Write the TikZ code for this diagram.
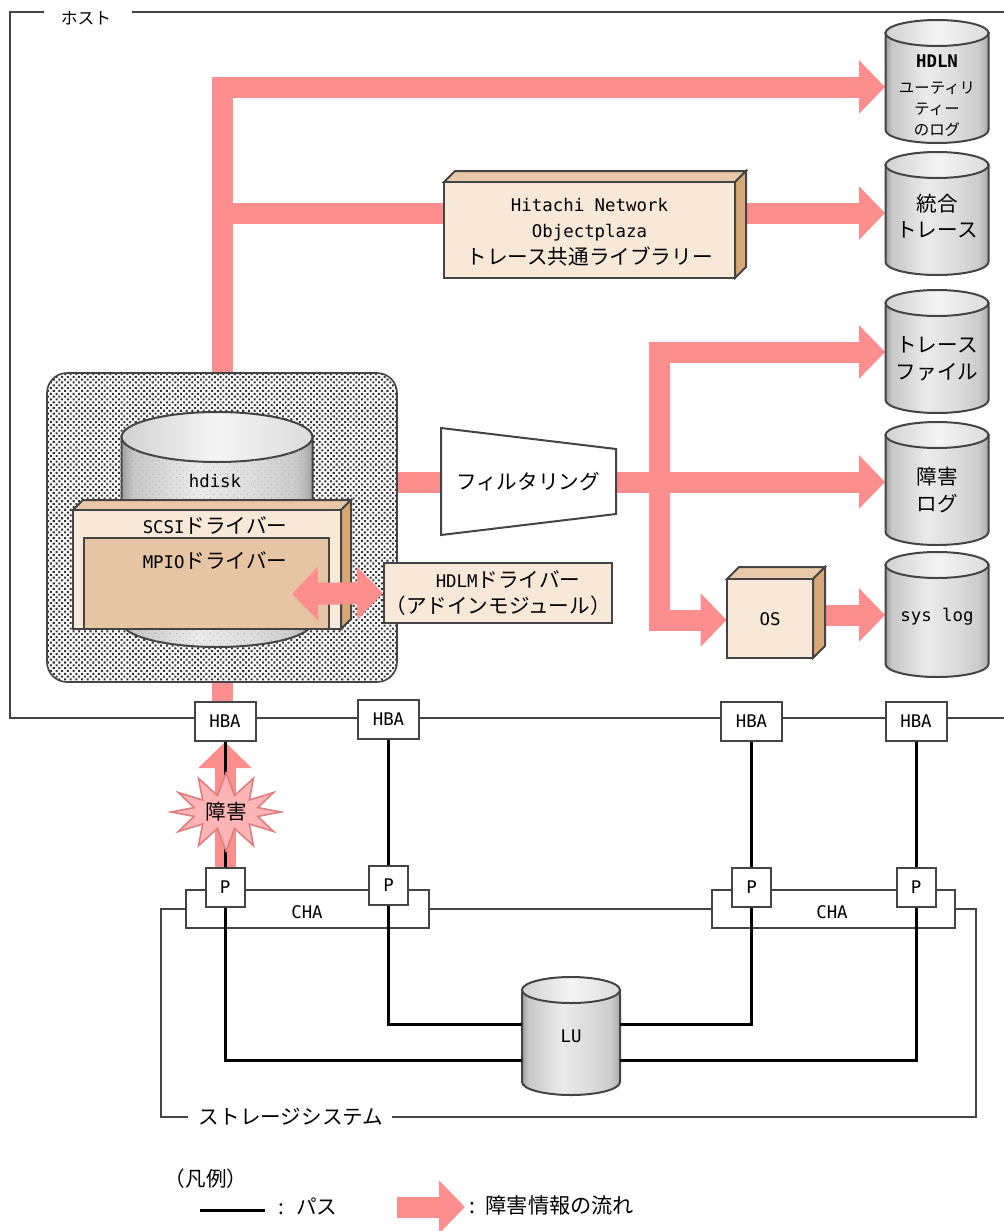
\documentclass[tikz,border=0pt]{standalone}
\usepackage{fontspec}
\setmainfont{Noto Sans CJK JP}
\setmonofont{DejaVu Sans Mono}
\usetikzlibrary{arrows.meta,backgrounds,patterns.meta,shapes.symbols}

\definecolor{flowpink}{HTML}{FC8E8E}
\definecolor{burstpink}{HTML}{FDB4B4}
\definecolor{burstedge}{HTML}{DD7F7F}
\definecolor{boxface}{HTML}{F8E8D8}
\definecolor{boxtop}{HTML}{E8C8A8}
\definecolor{boxside}{HTML}{D6A878}
\definecolor{mpioface}{HTML}{E6C4A4}
\definecolor{edgegrey}{HTML}{444444}

\pgfdeclarehorizontalshading{drumside}{100bp}{color(0bp)=(black!38); color(25bp)=(black!38); color(28bp)=(black!22); color(45bp)=(black!8); color(60bp)=(black!14); color(70bp)=(black!20); color(73bp)=(black!27); color(75bp)=(black!38); color(100bp)=(black!38)}
\pgfdeclarehorizontalshading{drumlid}{100bp}{color(0bp)=(black!18); color(25bp)=(black!18); color(50bp)=(black!4); color(75bp)=(black!14); color(100bp)=(black!14)}

\tikzset{
    frameline/.style={draw=edgegrey, line width=1pt},
    pathline/.style={draw=black, line width=1.5pt},
    flow/.style={draw=flowpink, line width=10.5pt, -{Triangle[length=13pt,width=26pt]}},
    flowplain/.style={draw=flowpink, line width=10.5pt},
    portbox/.style={draw=edgegrey, line width=1pt, fill=white, inner sep=0pt},
    habox/.style={portbox, minimum width=30.5pt, minimum height=19.5pt},
    pbox/.style={portbox, minimum width=19.5pt, minimum height=19.5pt},
    chabox/.style={portbox, minimum width=121.5pt, minimum height=19pt},
    drumtext/.style={minimum width=51.5pt, inner sep=0pt, align=center},
    basefont/.style={font=\fontsize{10.3}{13.2}\selectfont},
    faintdots/.style={pattern={Dots[radius=.28pt, distance=2.4pt, angle=45]}, pattern color=black!35},
}

% x centre, y of lid, y of base, x radius, y radius
\newcommand{\drum}[5]{
    \shadedraw[shading=drumside, draw=edgegrey, line width=1pt] (#1-#4,#2) -- (#1-#4,#3) arc[start angle=180, end angle=0, x radius=#4, y radius=#5] -- (#1+#4,#2) -- cycle;
    \shadedraw[shading=drumlid, draw=edgegrey, line width=1pt] (#1,#2) ellipse[x radius=#4, y radius=#5];
}
% left, top, right, bottom, depth
\newcommand{\solidbox}[5]{
    \filldraw[fill=boxtop, draw=edgegrey, line width=1pt] (#1,#2) -- (#1+#5,#2-#5) -- (#3+#5,#2-#5) -- (#3,#2) -- cycle;
    \filldraw[fill=boxside, draw=edgegrey, line width=1pt] (#3,#2) -- (#3+#5,#2-#5) -- (#3+#5,#4-#5) -- (#3,#4) -- cycle;
    \filldraw[fill=boxface, draw=edgegrey, line width=1pt] (#1,#2) rectangle (#3,#4);
}
\newcommand{\lat}[1]{{\fontsize{8.7}{8.7}\ttfamily\selectfont #1}}

\begin{document}
\begin{tikzpicture}[x=0.5pt, y=-0.5pt, basefont]
    \useasboundingbox (0,0) rectangle (1004,1231);

    \coordinate (hdlnrow) at (0,87);
    \coordinate (tracerow) at (0,213);
    \coordinate (filerow) at (0,352);
    \coordinate (osrow) at (0,620);
    \coordinate (syslogrow) at (0,615);
    \coordinate (lurowA) at (0,1024);
    \coordinate (lurowB) at (0,1060);
    \coordinate (branch) at (659,483);
    \coordinate (hostTL) at (10,12);
    \coordinate (hostTR) at (1004,12);
    \coordinate (hostBL) at (10,718);
    \coordinate (hostBR) at (1004,718);
    \coordinate (storeBL) at (161,1117);
    \coordinate (storeBR) at (976,1117);
    \coordinate (mpioport) at (292,594);
    \coordinate (pathkeystart) at (200,1210);
    \coordinate (flowkeystart) at (397,1207);

    % host side
    \node[inner sep=0pt] (hostlabel) at (86,18) {\fontsize{8.4}{10}\selectfont ホスト};
    \node[minimum width=175pt, minimum height=154.5pt, rounded corners=10pt, draw=edgegrey, line width=.8pt, pattern={Dots[radius=.72pt, distance=2pt, angle=45]}, pattern color=black!80] (hostpanel) at (222,527.5) {};

    \solidbox{444}{182}{735}{278}{11}
    \node[minimum width=145.5pt, align=center, inner sep=0pt, font=\fontsize{10.3}{13.25}\selectfont] (hnbox) at (589.5,232) {\lat{Hitachi Network}\\\lat{Objectplaza}\\トレース共通ライブラリー};

    \filldraw[fill=white, draw=edgegrey, line width=1pt] (441,428) -- (616,449) -- (616,514) -- (441,535) -- cycle;
    \node (filter) at (528,482) {フィルタリング};

    \solidbox{727}{579}{813}{658}{12}
    \node[minimum width=43pt, inner sep=0pt] (osbox) at (770,619) {\lat{OS}};

    \drum{937}{33}{130}{51.5}{13}
    \drum{937}{165}{262}{51.5}{13}
    \drum{937}{303}{400}{51.5}{13}
    \drum{937}{435}{532}{51.5}{13}
    \drum{937}{565}{664}{51.5}{13}
    \node[drumtext, font=\fontsize{7.7}{10.7}\selectfont] (hdlnlog) at (937,96) {\lat{\bfseries HDLN}\\[2pt]ユーティリ\\ティー\\のログ};
    \node[drumtext] (tracelog) at (937,216) {統合\\トレース};
    \node[drumtext] (tracefile) at (937,359) {トレース\\ファイル};
    \node[drumtext] (faultlog) at (937,490) {障害\\ログ};
    \node[drumtext] (syslog) at (937,617) {\lat{sys log}};

    % inside the panel
    \drum{217}{437}{622}{95.5}{25}
    \fill[faintdots] (121.5,437) -- (121.5,622) arc[start angle=180, end angle=0, x radius=95.5, y radius=25] -- (312.5,437) arc[start angle=0, end angle=180, x radius=95.5, y radius=25] -- cycle;
    \node (hdisk) at (215,481) {\lat{hdisk}};
    \solidbox{73}{510}{341}{629}{10}
    \node (scsidrv) at (215,526) {\lat{SCSI}ドライバー};
    \node[draw=edgegrey, line width=1pt, fill=mpioface, minimum width=122.5pt, minimum height=45.5pt] (mpiodrv) at (206.5,583.5) {};
    \node (mpiotext) at (215,560) {\lat{MPIO}ドライバー};
    \node[draw=edgegrey, line width=1pt, fill=boxface, minimum width=114pt, minimum height=30pt, align=center, inner sep=0pt] (hdlmdrv) at (498,593) {\hspace*{10pt}\lat{HDLM}ドライバー\\（アドインモジュール）};
    \draw[flowpink, line width=11pt, {Triangle[length=13pt,width=26pt]}-{Triangle[length=13pt,width=26pt]}] (mpioport) -- (hdlmdrv.west);

    \node[habox] (hba1) at (225,721.5) {\lat{HBA}};
    \node[habox] (hba2) at (388.5,719.5) {\lat{HBA}};
    \node[habox] (hba3) at (751.5,721.5) {\lat{HBA}};
    \node[habox] (hba4) at (916,721.5) {\lat{HBA}};

    % storage side
    \node[chabox] (cha1) at (307.5,909) {};
    \node[chabox] (cha2) at (833.5,909) {};
    \node (chatext1) at (307,912) {\lat{CHA}};
    \node (chatext2) at (832,912) {\lat{CHA}};
    \node[pbox] (port1) at (225,887.5) {\lat{P}};
    \node[pbox] (port2) at (388.5,885.5) {\lat{P}};
    \node[pbox] (port3) at (751.5,887.5) {\lat{P}};
    \node[pbox] (port4) at (916,887.5) {\lat{P}};
    \drum{571}{990}{1082}{49}{13}
    \node[drumtext, minimum width=49pt] (lu) at (571,1036) {\lat{LU}};
    \node[inner sep=0pt] (storelabel) at (291,1117) {ストレージシステム};

    % under everything
    \begin{pgfonlayer}{background}
        \draw[frameline] ([xshift=-8pt]hostlabel.west |- hostTL) -- (hostTL) -- (hostBL) -- (hostBR);
        \draw[frameline] ([xshift=10pt]hostlabel.east |- hostTL) -- (hostTR);
        \draw[flow] (hostpanel.north) |- (hdlnlog.west |- hdlnrow);
        \draw[flowplain] (hostpanel.north |- tracerow) -- (hnbox |- tracerow);
        \draw[flow] (hnbox |- tracerow) -- (tracelog.west |- tracerow);
        \draw[flowplain] (hostpanel.east |- filter) -- (filter);
        \draw[flow] (filter) -- (faultlog.west |- filter);
        \draw[flow] (branch) |- (tracefile.west |- filerow);
        \draw[flow] (branch) |- (osbox.west |- osrow);
        \draw[flow] (osbox |- syslogrow) -- (syslog.west |- syslogrow);
        \draw[flowplain] (hostpanel.south) -- (hostpanel.south |- hba1.north);
        \draw[flow] (port1.north) -- (hba1.south);
    \end{pgfonlayer}

    \draw[frameline] (cha1.west) -| (storeBL) -- ([xshift=-5pt]storelabel.west);
    \draw[frameline] ([xshift=4pt]storelabel.east) -- (storeBR) |- (cha2.east);
    \draw[frameline] (cha1.east) -- (cha2.west);

    \draw[pathline] (hba1.south) -- (port1.north);
    \draw[pathline] (hba2.south) -- (port2.north);
    \draw[pathline] (hba3.south) -- (port3.north);
    \draw[pathline] (hba4.south) -- (port4.north);
    \draw[pathline] (port1.south) |- (lu.west |- lurowB);
    \draw[pathline] (port2.south) |- (lu.west |- lurowA);
    \draw[pathline] (port3.south) |- (lu.east |- lurowA);
    \draw[pathline] (port4.south) |- (lu.east |- lurowB);

    \node[starburst, starburst points=12, starburst point height=11pt, random starburst=0, minimum width=55pt, minimum height=39pt, inner sep=0pt, fill=burstpink, draw=burstedge, line width=.8pt] (fault) at (226,812) {障害};

    % legend
    \node (legendhead) at (206,1179) {（凡例）};
    \node[anchor=west, inner xsep=6.5pt] (pathkey) at (265,1206) {:\hspace{3pt} パス};
    \draw[draw=black, line width=1.5pt] (pathkeystart) -- (pathkey.west |- pathkeystart);
    \node[anchor=west, inner xsep=2pt, font=\fontsize{10.6}{13}\selectfont] (flowkey) at (465,1205) {:\hspace{2pt} 障害情報の流れ};
    \draw[flow] (flowkeystart) -- (flowkey.west |- flowkeystart);
\end{tikzpicture}
\end{document}
